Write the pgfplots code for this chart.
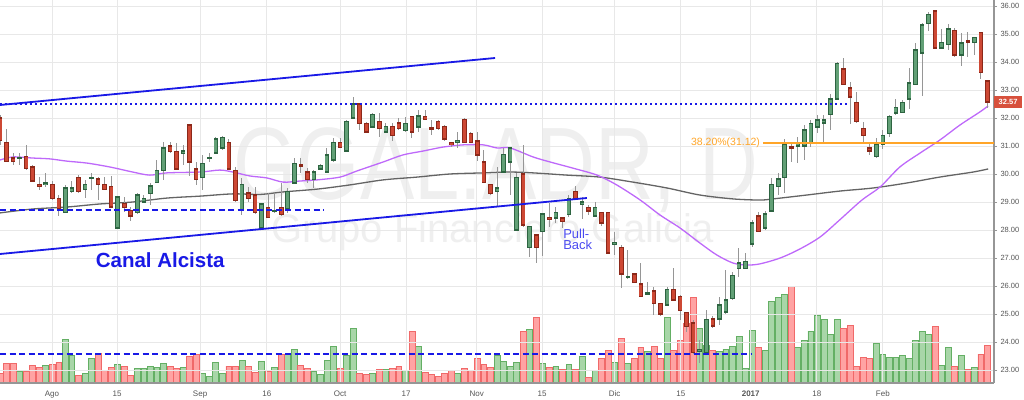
\documentclass[border=0pt]{standalone}
\usepackage{pgfplots}
\pgfplotsset{compat=1.18}
\usepackage{pgfplotstable}
\usepackage{fontspec}
\setmainfont{Liberation Sans}

\definecolor{upfill}{RGB}{98,160,118}
\definecolor{upline}{RGB}{45,100,65}
\definecolor{dnfill}{RGB}{205,72,52}
\definecolor{dnline}{RGB}{140,40,25}
\definecolor{wick}{RGB}{150,150,150}
\definecolor{volgfill}{RGB}{168,214,168}
\definecolor{volgline}{RGB}{100,175,100}
\definecolor{volrfill}{RGB}{255,163,163}
\definecolor{volrline}{RGB}{240,105,105}
\definecolor{smapurple}{RGB}{190,105,250}
\definecolor{smagray}{RGB}{100,100,100}
\definecolor{tblue}{RGB}{25,25,230}
\definecolor{fibo}{RGB}{255,165,40}
\definecolor{gridgray}{RGB}{232,232,232}
\definecolor{axisgray}{RGB}{150,150,150}
\definecolor{labelgray}{RGB}{85,85,85}
\definecolor{pricered}{RGB}{215,80,60}
\definecolor{wmgray}{RGB}{239,239,239}
\definecolor{pullblue}{RGB}{75,75,240}

\pgfplotstableread{
i o h l c v
0 32.00 32.11 31.04 31.21 10
1 31.14 31.61 30.43 30.46 20
2 30.57 30.75 30.32 30.46 20
3 30.55 30.75 30.32 30.59 12
4 30.64 31.04 30.14 30.21 12
5 30.25 30.32 29.71 29.75 18
6 29.64 29.89 29.43 29.54 16
7 29.61 30.04 29.54 29.68 18
8 29.64 29.75 29.07 29.14 19
9 29.14 29.25 28.50 28.75 21
10 28.64 29.61 28.60 29.50 44
11 29.36 29.75 29.32 29.50 28
12 29.89 29.96 29.32 29.36 8
13 29.46 29.79 29.14 29.64 10
14 29.84 30.04 29.43 29.88 25
15 29.82 29.89 29.07 29.61 30
16 29.64 29.89 29.43 29.46 13
17 29.54 29.93 28.79 28.82 16
18 28.07 29.21 28.04 29.18 19
19 28.96 29.18 28.64 28.79 17
20 28.71 28.82 28.32 28.50 8
21 28.61 29.32 28.57 29.25 15
22 29.00 29.25 28.96 29.14 15
23 29.29 29.68 28.89 29.57 17
24 29.71 30.50 29.68 30.11 16
25 30.11 31.14 29.79 30.93 20
26 31.00 31.14 30.75 30.79 17
27 30.79 31.11 30.14 30.18 15
28 30.75 31.04 30.32 30.82 16
29 31.75 31.79 29.93 30.43 27
30 30.18 30.43 29.61 29.79 29
31 29.89 30.68 29.43 30.39 10
32 30.55 30.75 30.43 30.59 7
33 30.75 31.32 30.71 31.25 21
34 30.93 31.36 30.86 31.29 10
35 31.14 31.25 30.14 30.18 17
36 30.11 30.25 29.00 29.04 17
37 28.71 29.86 28.54 29.64 23
38 29.32 29.54 29.00 29.14 17
39 29.25 29.54 28.57 28.61 11
40 28.07 28.96 28.04 28.93 22
41 28.79 29.32 28.43 28.46 12
42 28.66 29.32 28.61 28.70 16
43 28.79 29.68 28.50 28.54 29
44 28.75 29.50 28.61 29.36 29
45 29.68 30.57 29.64 30.36 34
46 30.32 30.57 30.04 30.29 18
47 30.07 30.21 29.68 29.79 15
48 29.79 30.14 29.50 30.07 12
49 30.18 30.36 30.14 30.29 9
50 30.07 30.93 30.04 30.68 23
51 30.50 31.29 30.43 31.11 37
52 31.14 31.29 30.93 30.96 15
53 30.82 31.93 30.82 31.86 28
54 32.00 32.75 31.96 32.50 55
55 32.50 32.54 31.57 31.79 10
56 31.79 31.86 31.46 31.50 9
57 31.68 32.18 31.64 32.11 10
58 31.89 32.18 31.32 31.61 14
59 31.50 31.82 31.46 31.71 14
60 31.71 31.82 31.18 31.36 15
61 31.82 32.00 31.57 31.61 17
62 31.54 32.04 31.50 31.79 13
63 32.04 32.07 31.29 31.50 52
64 31.68 32.29 31.50 32.07 37
65 32.04 32.29 31.93 31.96 11
66 31.64 31.93 31.39 31.61 9
67 31.89 31.93 31.57 31.61 7
68 31.71 31.75 31.18 31.25 10
69 31.11 31.14 30.96 31.04 13
70 31.14 31.50 30.93 31.21 10
71 31.96 32.00 31.11 31.14 15
72 31.46 31.50 31.11 31.14 13
73 31.18 31.50 30.46 30.68 25
74 30.43 30.86 29.68 29.71 19
75 29.61 29.64 29.25 29.29 16
76 29.39 30.25 28.82 29.50 28
77 30.07 30.93 30.04 30.71 22
78 30.43 30.96 29.25 30.93 17
79 28.00 30.04 27.96 29.89 21
80 30.00 31.04 28.11 28.18 52
81 27.39 28.14 27.04 28.11 54
82 27.82 27.86 26.82 27.39 66
83 27.96 28.61 27.07 28.57 20
84 28.46 28.96 28.11 28.39 16
85 28.43 28.82 28.25 28.61 17
86 28.43 28.46 28.07 28.32 14
87 28.54 29.25 28.46 29.14 19
88 29.39 29.57 29.11 29.14 14
89 28.93 29.18 28.39 29.00 27
90 28.79 28.89 28.54 28.68 6
91 28.50 29.00 28.46 28.79 13
92 28.61 28.64 28.14 28.25 25
93 28.61 28.64 27.15 27.18 33
94 27.50 27.93 27.11 27.55 21
95 27.36 27.46 25.93 26.43 45
96 26.30 27.29 26.29 26.34 20
97 26.43 26.46 26.11 26.14 25
98 26.07 26.82 25.61 25.64 36
99 25.71 26.14 25.68 25.75 32
100 25.82 25.96 24.96 25.36 37
101 25.36 25.39 24.93 25.00 25
102 25.32 25.96 25.29 25.89 66
103 25.89 26.64 25.46 25.50 33
104 25.64 25.68 24.79 25.14 43
105 25.04 25.07 24.36 24.54 60
106 24.68 24.79 23.57 23.61 86
107 23.68 24.07 23.25 23.73 55
108 23.64 25.14 23.61 24.79 38
109 24.82 24.93 24.50 24.57 33
110 24.82 25.61 24.61 25.32 32
111 25.07 26.57 25.00 25.50 34
112 25.54 26.50 25.50 26.39 37
113 26.64 27.36 26.32 26.82 47
114 26.64 27.18 26.61 26.89 15
115 27.50 28.36 27.39 28.25 53
116 28.50 28.64 27.93 27.96 36
117 28.07 28.68 28.00 28.57 33
118 28.68 29.86 28.64 29.61 82
119 29.54 30.04 29.25 29.82 86
120 29.89 31.25 29.32 31.07 89
121 30.96 31.14 30.43 30.93 97
122 31.00 31.32 30.39 31.14 36
123 31.00 31.75 30.50 31.57 43
124 31.14 31.93 30.96 31.79 52
125 31.68 32.11 31.46 31.93 68
126 31.82 32.11 31.14 31.93 64
127 32.14 32.86 31.57 32.68 49
128 32.68 34.00 32.64 33.96 64
129 33.75 34.14 33.18 33.21 55
130 33.07 33.29 31.79 32.75 58
131 32.54 32.93 31.82 31.89 17
132 31.64 31.86 31.11 31.36 26
133 30.93 31.11 30.68 30.82 25
134 30.61 31.29 30.57 31.07 40
135 31.07 31.57 30.89 31.36 29
136 31.46 32.11 31.32 32.04 26
137 32.18 32.68 32.11 32.39 26
138 32.21 32.64 32.18 32.54 28
139 32.68 33.79 32.32 33.25 25
140 33.21 34.68 33.18 34.43 43
141 34.32 35.39 32.79 35.32 52
142 35.39 35.79 35.11 35.71 49
143 35.82 35.84 34.47 34.50 57
144 34.50 35.18 34.46 34.71 18
145 34.64 35.36 34.43 35.18 36
146 35.14 35.21 34.18 34.25 17
147 34.25 35.04 33.86 34.68 28
148 34.75 35.07 34.18 34.71 14
149 34.71 34.89 34.25 34.86 16
150 35.04 35.07 33.39 33.61 29
151 33.32 33.36 32.36 32.57 38
}\candles

\pgfplotsset{/pgf/number format/.cd, fixed, fixed zerofill, precision=2, assume math mode=true}

\begin{document}
\begin{tikzpicture}
\useasboundingbox (0pt,-16pt) rectangle (1024pt,383pt);

% volume axis (behind)
\begin{axis}[at={(0pt,0pt)}, anchor=south west, scale only axis,
  width=994pt, height=383pt, xmin=0, xmax=152, ymin=0, ymax=383,
  hide axis, clip=true]
  \node[wmgray, font=\fontsize{103}{103}\selectfont, xscale=0.79] at (axis cs:75.8,213) {GGAL:ADR, D};
  \node[wmgray, font=\fontsize{40}{40}\selectfont] at (axis cs:75.4,151) {Grupo Financiero Galicia};
  \addplot[ybar, bar width=0.9, bar shift=0pt, fill=volgfill, draw=volgline, line width=0.8pt,
    restrict expr to domain={\thisrow{c}-\thisrow{o}}{0:100}] table[x=i, y=v] {\candles};
  \addplot[ybar, bar width=0.9, bar shift=0pt, fill=volrfill, draw=volrline, line width=0.8pt,
    restrict expr to domain={\thisrow{c}-\thisrow{o}}{-100:-0.0001}] table[x=i, y=v] {\candles};
\end{axis}

% price axis
\begin{axis}[at={(0pt,0pt)}, anchor=south west, scale only axis,
  width=994pt, height=383pt, xmin=0, xmax=152, ymin=22.536, ymax=36.214,
  axis x line*=bottom, axis y line*=right,
  axis line style={draw=axisgray, line width=1.2pt},
  xtick={7.95,17.9,30.6,40.8,52.0,62.1,72.9,82.9,94.0,104.1,114.8,124.9,135.0},
  xticklabels={Ago,15,Sep,16,Oct,17,Nov,15,Dic,15,\textbf{2017},18,Feb},
  ytick={23,24,...,36},
  grid=major, grid style={draw=gridgray, line width=0.8pt},
  tick label style={font=\fontsize{7.5}{9}\selectfont, text=labelgray},
  xticklabel style={font=\fontsize{8}{9}\selectfont, yshift=-1.5pt},
  x tick style={draw=none},
  y tick style={draw=axisgray, line width=0.8pt},
  major tick length=3pt, tick align=outside,
  clip=false]

  % moving averages
  \addplot[smagray, line width=1.3pt, smooth, mark=none] coordinates {
    (0,28.61) (5.0,28.75) (10.2,28.82) (15.3,28.93) (20.3,29.00) (25.5,29.14)
    (30.6,29.21) (35.6,29.29) (39.8,29.27) (43.3,29.36) (48.5,29.46) (53.5,29.61)
    (58.6,29.79) (63.8,29.89) (68.8,30.00) (73.9,30.04) (78.0,30.07) (81.5,30.04)
    (86.7,29.96) (91.7,29.89) (96.8,29.71) (102.0,29.50) (107.0,29.25) (112.1,29.11)
    (116.2,29.07) (118.2,29.11) (123.4,29.25) (128.4,29.39) (133.5,29.50) (138.7,29.68)
    (143.7,29.89) (148.8,30.07) (151.1,30.18)};
  \addplot[smapurple, line width=1.3pt, smooth, mark=none] coordinates {
    (0,30.50) (2.0,30.61) (5.0,30.57) (7.6,30.54) (10.2,30.46) (13.3,30.39)
    (16.8,30.25) (20.3,30.07) (22.9,29.96) (25.5,30.04) (30.6,30.07) (33.6,30.14)
    (35.6,30.07) (38.2,29.93) (40.8,29.86) (43.3,29.71) (45.9,29.75) (48.5,29.79)
    (52.0,29.89) (54.6,30.11) (58.6,30.43) (61.6,30.68) (64.7,30.82) (67.7,30.96)
    (70.8,31.04) (73.9,31.04) (76.0,30.93) (78.0,30.93) (81.5,30.61) (84.1,30.43)
    (87.6,30.21) (91.3,29.96) (94.3,29.61) (97.9,29.07) (100.9,28.54) (104.0,28.07)
    (107.0,27.54) (109.6,27.11) (112.1,26.82) (114.2,26.75) (116.2,26.79) (119.3,27.00)
    (122.3,27.32) (125.4,27.75) (128.4,28.36) (131.8,29.07) (134.6,29.54) (137.6,30.25)
    (140.7,30.75) (143.7,31.21) (146.8,31.75) (149.8,32.21) (151.1,32.43)};

  % wicks
  \addplot[draw=none, mark=none, forget plot,
    error bars/.cd, y dir=both, y explicit, error mark=none,
    error bar style={draw=wick, solid, line width=1pt}]
    table[x=i, y=o, y error plus expr=\thisrow{h}-\thisrow{o},
          y error minus expr=\thisrow{o}-\thisrow{l}] {\candles};
  % up bodies
  \addplot[draw=none, mark=none, forget plot,
    restrict expr to domain={\thisrow{c}-\thisrow{o}}{0:100},
    error bars/.cd, y dir=both, y explicit, error mark=none,
    error bar style={draw=upline, solid, line width=4.6pt}]
    table[x=i, y expr=0.5*(\thisrow{o}+\thisrow{c}),
          y error expr={max(0.5*abs(\thisrow{c}-\thisrow{o})+0.02,0.045)}] {\candles};
  \addplot[draw=none, mark=none, forget plot,
    restrict expr to domain={\thisrow{c}-\thisrow{o}}{0:100},
    error bars/.cd, y dir=both, y explicit, error mark=none,
    error bar style={draw=upfill, solid, line width=3.0pt}]
    table[x=i, y expr=0.5*(\thisrow{o}+\thisrow{c}),
          y error expr={max(0.5*abs(\thisrow{c}-\thisrow{o})-0.02,0)}] {\candles};
  % down bodies
  \addplot[draw=none, mark=none, forget plot,
    restrict expr to domain={\thisrow{c}-\thisrow{o}}{-100:-0.0001},
    error bars/.cd, y dir=both, y explicit, error mark=none,
    error bar style={draw=dnline, solid, line width=4.6pt}]
    table[x=i, y expr=0.5*(\thisrow{o}+\thisrow{c}),
          y error expr={max(0.5*abs(\thisrow{c}-\thisrow{o})+0.02,0.045)}] {\candles};
  \addplot[draw=none, mark=none, forget plot,
    restrict expr to domain={\thisrow{c}-\thisrow{o}}{-100:-0.0001},
    error bars/.cd, y dir=both, y explicit, error mark=none,
    error bar style={draw=dnfill, solid, line width=3.0pt}]
    table[x=i, y expr=0.5*(\thisrow{o}+\thisrow{c}),
          y error expr={max(0.5*abs(\thisrow{c}-\thisrow{o})-0.02,0)}] {\candles};

  % channel lines
  \addplot[tblue, line width=1.8pt, mark=none] coordinates {(0,32.464) (75.7,34.143)};
  \addplot[tblue, line width=1.8pt, mark=none] coordinates {(0,27.143) (89.75,29.143)};
  % horizontal levels
  \addplot[tblue, line width=1.6pt, dash pattern=on 1.6pt off 3.4pt, mark=none] coordinates {(0,32.5) (129.5,32.5)};
  \addplot[tblue, line width=1.6pt, dash pattern=on 6pt off 3.5pt, mark=none] coordinates {(0,28.71) (49.5,28.71)};
  \addplot[tblue, line width=1.6pt, dash pattern=on 6pt off 3.5pt, mark=none] coordinates {(0,23.57) (115,23.57)};
  \addplot[fibo, line width=1.8pt, mark=none] coordinates {(116.7,31.12) (152,31.12)};

  \node[fibo, anchor=east, font=\fontsize{10.5}{12}\selectfont, inner sep=1pt] at (axis cs:116.4,31.13) {38.20\%(31.12)};
  \node[tblue, font=\bfseries\fontsize{20.5}{22}\selectfont] at (axis cs:24.5,26.93) {Canal Alcista};
  \node[pullblue, anchor=base west, font=\fontsize{13}{14}\selectfont, inner sep=0pt] at (axis cs:86.1,27.71) {Pull-};
  \node[pullblue, anchor=base west, font=\fontsize{13}{14}\selectfont, inner sep=0pt] at (axis cs:86.1,27.29) {Back};
  \node[fill=pricered, text=white, anchor=west, font=\bfseries\fontsize{7.5}{9}\selectfont,
    inner xsep=4.5pt, inner ysep=0pt, minimum height=12pt] at (axis cs:152,32.57) {32.57};
\end{axis}
\end{tikzpicture}
\end{document}
